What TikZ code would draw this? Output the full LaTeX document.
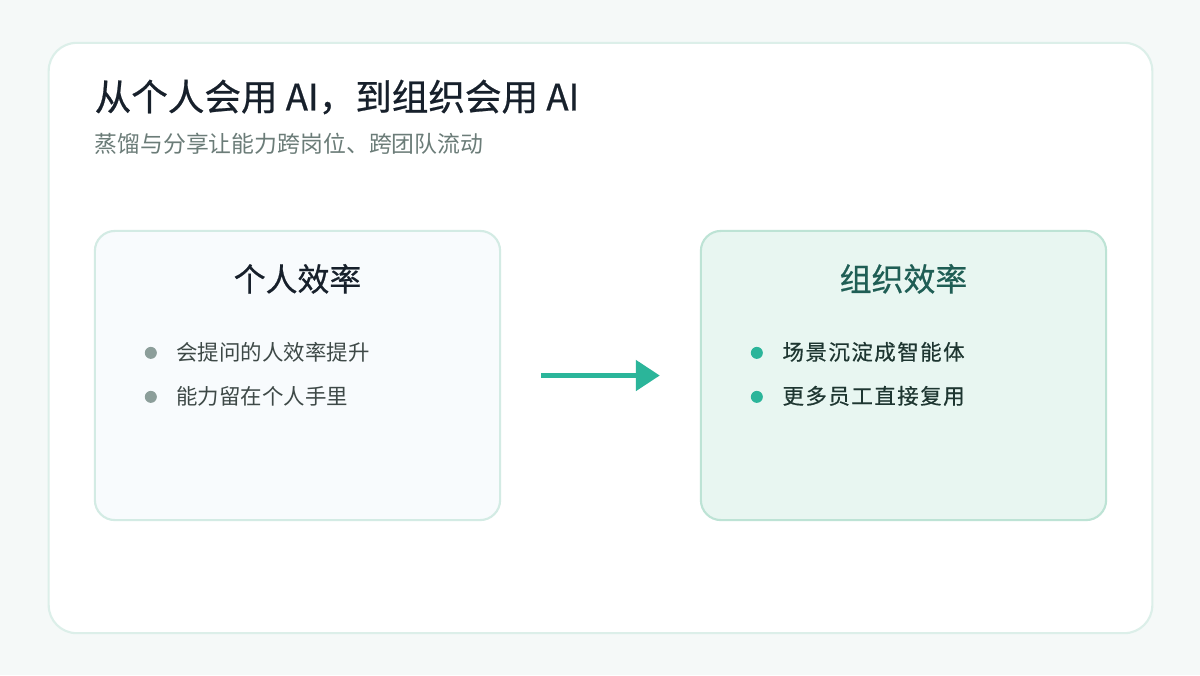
\documentclass[tikz,border=0pt]{standalone}
\usepackage{fontspec}
\setmainfont{Noto Sans CJK SC}
\newfontfamily\cjkmid[FakeBold=0.6]{Noto Sans CJK SC}
\newfontfamily\cjkitem[FakeBold=0.5,LetterSpace=7]{Noto Sans CJK SC}
\usepackage{tikz}
\usetikzlibrary{arrows.meta,positioning,calc}
\definecolor{pagebg}{HTML}{F5F9F8}
\definecolor{cardline}{HTML}{DCEFE9}
\definecolor{inkdark}{HTML}{17202B}
\definecolor{inkgray}{HTML}{6B7C78}
\definecolor{leftfill}{HTML}{F8FBFD}
\definecolor{leftline}{HTML}{D3EBE4}
\definecolor{rightfill}{HTML}{E8F6F1}
\definecolor{rightline}{HTML}{BDE3D5}
\definecolor{leftdot}{HTML}{8C9E9A}
\definecolor{lefttext}{HTML}{3E4947}
\definecolor{tealdot}{HTML}{2BB59A}
\definecolor{righttext}{HTML}{1E3631}
\definecolor{tealdark}{HTML}{1F5E55}

\begin{document}
\begin{tikzpicture}[x=0.01cm, y=-0.01cm,
  panel/.style={draw, line width=0.6pt, rounded corners=0.2cm, minimum width=4.05cm, minimum height=2.89cm, inner sep=0pt},
  paneltitle/.style={font=\fontsize{9.07pt}{11pt}\selectfont, inner sep=0pt},
  dot/.style={circle, inner sep=0pt, minimum size=0.12cm},
  item/.style={anchor=west, inner sep=0pt, font=\fontsize{6.1pt}{8pt}\selectfont},
  arr/.style={-{Triangle[length=0.24cm, width=0.30cm]}, line width=0.05cm, draw=tealdot, shorten <=0.4cm, shorten >=0.4cm}]
% background and card
\fill[pagebg] (0,0) rectangle (1200,675);
\useasboundingbox (0,0) rectangle (1200,675);
\node[draw=cardline, fill=white, line width=0.6pt, rounded corners=0.28cm, minimum width=11.03cm, minimum height=5.90cm, inner sep=0pt] (card) at (600.5,338) {};
\node[anchor=west, inner sep=0pt, text=inkdark, font=\fontsize{10.4pt}{12pt}\cjkmid] (title) at (94,97) {从个人会用 AI，到组织会用 AI};
\node[anchor=west, inner sep=0pt, text=inkgray, font=\fontsize{6.5pt}{8pt}\selectfont] (subtitle) at (94,144) {蒸馏与分享让能力跨岗位、跨团队流动};
% the two panels
\node[panel, draw=leftline, fill=leftfill] (indiv) at (297.5,375.5) {};
\node[panel, draw=rightline, fill=rightfill] (org) at (903.5,375.5) {};
\node[paneltitle, text=inkdark] (indivtitle) at ($(indiv.north)+(0,49)$) {\cjkmid 个人效率};
\node[paneltitle, text=tealdark] (orgtitle) at ($(org.north)+(0,49)$) {\cjkmid 组织效率};
% bullets
\node[dot, fill=leftdot] (d1) at ($(indiv.north west)+(57,123)$) {};
\node[dot, fill=leftdot] (d2) at ($(indiv.north west)+(57,167)$) {};
\node[item, text=lefttext] (t1) at ($(d1)+(25,-1)$) {会提问的人效率提升};
\node[item, text=lefttext] (t2) at ($(d2)+(25,-1)$) {能力留在个人手里};
\node[dot, fill=tealdot] (d3) at ($(org.north west)+(57,123)$) {};
\node[dot, fill=tealdot] (d4) at ($(org.north west)+(57,167)$) {};
\node[item, text=righttext, font=\fontsize{6.1pt}{8pt}\cjkitem] (t3) at ($(d3)+(25,-1)$) {场景沉淀成智能体};
\node[item, text=righttext, font=\fontsize{6.1pt}{8pt}\cjkitem] (t4) at ($(d4)+(25,-1)$) {更多员工直接复用};
% flow
\draw[arr] (indiv.east) -- (org.west);
\end{tikzpicture}
\end{document}
